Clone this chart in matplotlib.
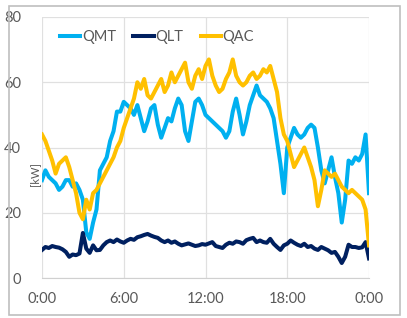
import matplotlib
matplotlib.use('Agg')
import matplotlib.pyplot as plt
import numpy as np

# 15-minute samples over one day (hours)
hours = np.arange(0, 24.01, 0.25)

qmt = [30, 33, 31, 30, 29, 27, 28, 30, 30, 28, 29, 27, 24, 14, 12, 17,
       21, 33, 35, 37, 42, 45, 51, 51, 54, 53, 52, 50, 53, 49, 45, 48,
       52, 53, 47, 43, 46, 49, 48, 52, 55, 53, 45, 42, 48, 54, 55, 53,
       50, 49, 48, 47, 46, 45, 43, 45, 51, 55, 50, 44, 48, 53, 56, 59,
       56, 55, 54, 52, 49, 42, 35, 26, 40, 43, 46, 44, 43, 44, 46, 47,
       46, 40, 33, 29, 33, 37, 31, 26, 17, 24, 36, 35, 37, 36, 38, 44,
       26]
qlt = [8.6, 9.5, 9.2, 9.8, 9.5, 9.3, 8.8, 8.0, 6.5, 7.2, 7.0, 7.5, 13.8, 9.0, 7.7, 10.0,
       8.5, 8.6, 10.0, 11.0, 11.5, 11.0, 11.8, 11.2, 10.8, 11.5, 12.0, 11.7, 12.5, 12.8, 13.2, 13.5,
       13.0, 12.6, 12.3, 11.5, 11.0, 11.5, 10.8, 11.2, 10.5, 10.0, 10.3, 10.6, 10.2, 9.8, 10.0, 10.4,
       10.2, 10.6, 11.0, 9.8, 9.5, 9.2, 10.2, 10.8, 10.5, 11.2, 11.0, 10.5, 11.6, 12.0, 12.3, 11.0,
       11.5, 11.0, 10.8, 12.0, 10.5, 9.5, 8.6, 10.0, 10.5, 11.5, 10.8, 10.2, 9.8, 10.5, 9.5, 9.8,
       9.0, 8.6, 9.5, 9.0, 8.5, 7.7, 8.0, 6.5, 4.6, 6.5, 10.2, 9.5, 9.5, 9.2, 9.4, 11.0,
       6.0]
qac = [44, 42, 39, 36, 32, 35, 36, 37, 34, 30, 26, 20, 18, 24, 21, 26,
       27, 29, 31, 33, 35, 37, 40, 42, 46, 49, 52, 55, 60, 58, 61, 56,
       55, 57, 59, 61, 57, 59, 63, 60, 62, 64, 66, 60, 58, 62, 64, 61,
       65, 67, 62, 59, 57, 58, 61, 63, 67, 62, 60, 59, 60, 62, 63, 61,
       62, 64, 63, 65, 61, 57, 49, 44, 42, 38, 34, 36, 38, 40, 37, 34,
       30, 22, 27, 33, 32, 31, 32, 30, 28, 27, 26, 27, 26, 25, 24, 21,
       10]

tick_hours = [0, 6, 12, 18, 24]
tick_labels = ['0:00', '6:00', '12:00', '18:00', '0:00']

plt.rcParams['font.family'] = ['Lato', 'DejaVu Sans']
grey = '#595959'

fig = plt.figure(figsize=(4.07, 3.18), dpi=100)
fig.patches.append(plt.Rectangle((9 / 407, 3 / 318), 391 / 407, 309 / 318,
                                 transform=fig.transFigure, fill=False,
                                 edgecolor='#BFBFBF', linewidth=1.2))
ax = fig.add_axes([42 / 407, 40 / 318, 327 / 407, 261 / 318])

ax.plot(hours, qmt, color='#00B0F0', lw=2.9, label='QMT', solid_joinstyle='round')
ax.plot(hours, qlt, color='#002060', lw=2.9, label='QLT', solid_joinstyle='round')
ax.plot(hours, qac, color='#FFC000', lw=2.9, label='QAC', solid_joinstyle='round')

ax.set_xlim(0, 24)
ax.set_ylim(0, 80)
ax.set_xticks(tick_hours)
ax.set_xticklabels(tick_labels)
ax.set_yticks([0, 20, 40, 60, 80])
ax.tick_params(length=0, colors=grey, labelsize=10.5)
ax.tick_params(axis='y', pad=15)
ax.tick_params(axis='x', pad=10)
ax.grid(True, color='#E0E0E0', lw=0.9)
ax.set_axisbelow(True)
for side in ['top', 'right', 'left']:
    ax.spines[side].set_visible(False)
ax.spines['bottom'].set_color('#D0D0D0')

ax.text(-0.022, 0.40, '[kW]', transform=ax.transAxes, rotation=90,
        ha='center', va='center', fontsize=8, color=grey)

ax.legend(loc='center left', bbox_to_anchor=(0.055, 0.923), ncol=3,
          frameon=False, fontsize=10.5, handlelength=1.4, handletextpad=0.1,
          columnspacing=1.2, borderpad=0, borderaxespad=0, labelcolor=grey)

fig.savefig('out.png', dpi=100)
